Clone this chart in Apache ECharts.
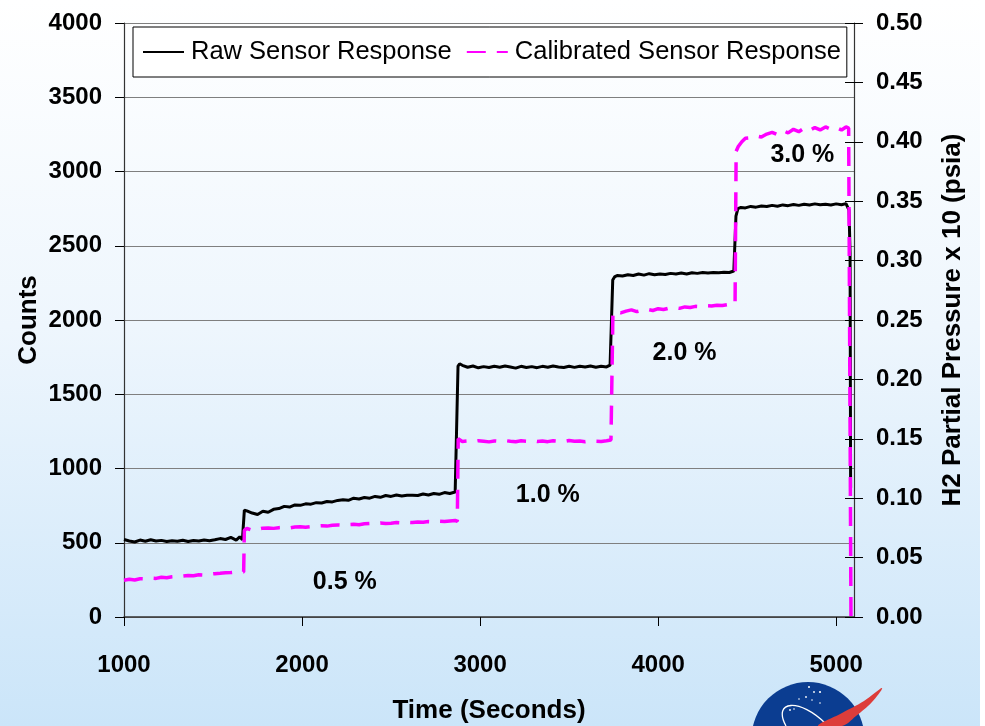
<!DOCTYPE html>
<html>
<head>
<meta charset="utf-8">
<title>H2 Sensor Response</title>
<script src="https://cdn.jsdelivr.net/npm/echarts@6/dist/echarts.min.js"></script>
<style>
  html, body { margin: 0; padding: 0; }
  #chart {
    width: 985px; height: 726px;
    background: linear-gradient(to bottom, #ffffff 0%, #eef6fd 45%, #cbe5f9 100%);
  }
</style>
</head>
<body>
<div id="chart"></div>
<script>
// Raw sensor output (counts, left axis)
const rawTime = [
  1000, 1030, 1060, 1090, 1120, 1150, 1180, 1210, 1240, 1270, 1300, 1330, 1360, 1390, 1420, 1450, 1480, 1510, 1540, 1570, 1600, 1630, 1650, 1665, 1672,
  1676, 1690, 1720, 1750, 1780, 1810, 1840, 1870, 1900, 1930, 1960, 1990, 2020, 2050, 2080, 2110, 2140, 2170, 2200, 2230, 2260, 2290, 2320, 2350, 2380, 2410, 2440, 2470, 2500, 2530, 2560, 2590, 2620, 2650, 2680, 2710, 2740, 2770, 2800, 2830, 2860, 2870,
  2876, 2885, 2900, 2930, 2960, 2990, 3020, 3050, 3080, 3110, 3140, 3170, 3200, 3230, 3260, 3290, 3320, 3350, 3380, 3410, 3440, 3470, 3500, 3530, 3560, 3590, 3620, 3650, 3680, 3710, 3730, 3740,
  3745, 3755, 3770, 3800, 3830, 3860, 3890, 3920, 3950, 3980, 4010, 4040, 4070, 4100, 4130, 4160, 4190, 4220, 4250, 4280, 4310, 4340, 4370, 4400, 4425, 4432,
  4437, 4448, 4465, 4490, 4520, 4550, 4580, 4610, 4640, 4670, 4700, 4730, 4760, 4790, 4820, 4850, 4880, 4910, 4940, 4970, 5000, 5030, 5055, 5066, 5072, 5078, 5081
];
const rawCounts = [
  522, 512, 505, 518, 510, 520, 512, 516, 508, 514, 510, 517, 509, 515, 512, 518, 514, 520, 528, 522, 536, 518, 540, 520, 525,
  720, 715, 700, 690, 712, 705, 725, 730, 745, 740, 755, 752, 762, 760, 770, 768, 778, 775, 785, 790, 786, 800, 795, 805, 800, 812, 806, 818, 812, 822, 815, 820, 820, 818, 828, 822, 832, 826, 838, 832, 842, 836,
  1690, 1705, 1695, 1682, 1690, 1678, 1686, 1680, 1688, 1682, 1690, 1684, 1676, 1688, 1680, 1686, 1679, 1688, 1682, 1690, 1684, 1680, 1688, 1681, 1689, 1683, 1690, 1682, 1688, 1684, 1696, 1690,
  2270, 2290, 2300, 2296, 2305, 2300, 2310, 2302, 2312, 2305, 2310, 2306, 2314, 2310, 2316, 2310, 2318, 2314, 2320, 2316, 2320, 2318, 2322, 2320, 2330, 2318,
  2700, 2750, 2758, 2755, 2765, 2760, 2768, 2764, 2772, 2766, 2775, 2770, 2778, 2772, 2780, 2774, 2782, 2776, 2780, 2775, 2782, 2776, 2784, 2790, 2740, 2450, 870
];

// Calibrated H2 partial pressure x 10 (psia, right axis)
const calTime = [
  1000, 1030, 1060, 1090, 1120, 1150, 1180, 1210, 1240, 1270, 1300, 1330, 1360, 1390, 1420, 1450, 1480, 1510, 1540, 1570, 1600, 1630, 1660, 1672,
  1676, 1690, 1710, 1730, 1750, 1780, 1810, 1840, 1870, 1900, 1930, 1960, 1990, 2020, 2050, 2080, 2110, 2140, 2170, 2200, 2230, 2260, 2290, 2320, 2350, 2380, 2410, 2440, 2470, 2500, 2530, 2560, 2590, 2620, 2650, 2680, 2710, 2740, 2770, 2800, 2830, 2860, 2872,
  2877, 2884, 2900, 2930, 2960, 2990, 3020, 3050, 3080, 3110, 3140, 3170, 3200, 3230, 3260, 3290, 3320, 3350, 3380, 3410, 3440, 3470, 3500, 3530, 3560, 3590, 3620, 3650, 3680, 3710, 3735, 3742,
  3746, 3760, 3790, 3820, 3850, 3880, 3910, 3940, 3970, 4000, 4030, 4060, 4090, 4120, 4150, 4180, 4210, 4240, 4270, 4300, 4330, 4360, 4390, 4415, 4432,
  4438, 4450, 4470, 4490, 4520, 4550, 4580, 4610, 4640, 4670, 4700, 4730, 4760, 4790, 4820, 4850, 4880, 4910, 4940, 4970, 5000, 5030, 5055, 5070, 5078, 5083
];
const calPsia = [
  0.0310, 0.0318, 0.0312, 0.0322, 0.0320, 0.0328, 0.0325, 0.0334, 0.0330, 0.0338, 0.0342, 0.0345, 0.0350, 0.0348, 0.0355, 0.0352, 0.0360, 0.0365, 0.0368, 0.0372, 0.0374, 0.0378, 0.0376, 0.0380,
  0.0730, 0.0745, 0.0735, 0.0728, 0.0740, 0.0748, 0.0750, 0.0746, 0.0752, 0.0755, 0.0750, 0.0758, 0.0760, 0.0756, 0.0762, 0.0765, 0.0768, 0.0765, 0.0772, 0.0775, 0.0772, 0.0778, 0.0780, 0.0777, 0.0785, 0.0788, 0.0785, 0.0792, 0.0788, 0.0790, 0.0795, 0.0792, 0.0798, 0.0795, 0.0800, 0.0798, 0.0803, 0.0800, 0.0806, 0.0803, 0.0808, 0.0812, 0.0806,
  0.1500, 0.1485, 0.1478, 0.1482, 0.1476, 0.1484, 0.1480, 0.1474, 0.1482, 0.1478, 0.1485, 0.1479, 0.1476, 0.1483, 0.1480, 0.1486, 0.1478, 0.1482, 0.1476, 0.1484, 0.1480, 0.1477, 0.1485, 0.1479, 0.1482, 0.1476, 0.1483, 0.1480, 0.1478, 0.1484, 0.1490, 0.1485,
  0.2565, 0.2572, 0.2560, 0.2575, 0.2585, 0.2570, 0.2582, 0.2590, 0.2580, 0.2595, 0.2588, 0.2600, 0.2605, 0.2598, 0.2610, 0.2605, 0.2615, 0.2612, 0.2620, 0.2618, 0.2625, 0.2622, 0.2630, 0.2628, 0.2635,
  0.3920, 0.3960, 0.4000, 0.4030, 0.4035, 0.4050, 0.4040, 0.4065, 0.4080, 0.4060, 0.4095, 0.4075, 0.4105, 0.4085, 0.4115, 0.4095, 0.4120, 0.4100, 0.4125, 0.4105, 0.4120, 0.4100, 0.4125, 0.4115, 0.4100, 0.0000
];

// Gas concentration steps, placed in (time, counts) coordinates
const stepLabels = ['0.5 %', '1.0 %', '2.0 %', '3.0 %'];
const stepLabelTime = [2240, 3380, 4148, 4810];
const stepLabelCounts = [233, 820, 1777, 3113];

const xTicks = [1000, 2000, 3000, 4000, 5000];

const FONT = "'Liberation Sans', Arial, Helvetica, sans-serif";
const chart = echarts.init(document.getElementById('chart'));

const zip = (a, b) => a.map((v, i) => [v, b[i]]);

const axisText = { fontFamily: FONT, fontWeight: 'bold', fontSize: 24, color: '#000' };
const nameText = { fontFamily: FONT, fontWeight: 'bold', fontSize: 26, color: '#000' };

chart.setOption({
  animation: false,
  grid: { left: 124, right: 131, top: 23, bottom: 109, containLabel: false, outerBoundsMode: 'none' },
  legend: {
    data: ['Raw Sensor Response', 'Calibrated Sensor Response'],
    left: 133, top: 27,
    padding: [12, 6, 12, 9],
    itemGap: 14,
    itemWidth: 41, itemHeight: 14,
    borderColor: '#000', borderWidth: 1,
    backgroundColor: 'rgba(255,255,255,0.85)',
    itemStyle: { opacity: 0 },
    textStyle: { fontFamily: FONT, fontSize: 25.5, color: '#000', padding: [0, 0, 0, 2] }
  },
  xAxis: {
    type: 'value', min: 1000, max: 5100, interval: 1000,
    name: 'Time (Seconds)', nameLocation: 'middle', nameGap: 81, nameTextStyle: nameText,
    axisLine: { onZero: false, lineStyle: { color: '#333', width: 1.5 } },
    axisTick: { show: true, length: 9, customValues: xTicks, lineStyle: { color: '#000' } },
    axisLabel: { customValues: xTicks, margin: 36, formatter: v => String(v), ...axisText },
    splitLine: { show: false }
  },
  yAxis: [
    {
      type: 'value', min: 0, max: 4000, interval: 500, position: 'left',
      name: 'Counts', nameLocation: 'middle', nameGap: 82, nameMoveOverlap: false, nameTextStyle: nameText,
      axisLine: { show: true, lineStyle: { color: '#333', width: 1.2 } },
      axisTick: { show: true, length: 9, lineStyle: { color: '#000' } },
      axisLabel: { margin: 22, formatter: v => String(v), ...axisText },
      splitLine: { show: true, lineStyle: { color: '#7f7f7f', width: 1.2 } }
    },
    {
      type: 'value', min: 0, max: 0.5, interval: 0.05, position: 'right',
      name: 'H2 Partial Pressure x 10 (psia)', nameLocation: 'middle', nameGap: 86, nameRotate: 90,
      nameTextStyle: nameText,
      axisLine: { show: true, lineStyle: { color: '#333', width: 1.2 } },
      axisTick: { show: true, length: 9, lineStyle: { color: '#000' } },
      axisLabel: { margin: 22, formatter: v => v.toFixed(2), ...axisText },
      splitLine: { show: false }
    },
    {
      // inner half of the cross ticks on the pressure axis
      type: 'value', min: 0, max: 0.5, interval: 0.05, position: 'right',
      axisLine: { show: false },
      axisTick: { show: true, inside: true, length: 9, lineStyle: { color: '#000' } },
      axisLabel: { show: false },
      splitLine: { show: false }
    }
  ],
  series: [
    {
      name: 'Raw Sensor Response', type: 'line', yAxisIndex: 0,
      data: zip(rawTime, rawCounts),
      showSymbol: false, symbol: 'none',
      lineStyle: { color: '#000', width: 3 },
      itemStyle: { color: '#000' },
      z: 3
    },
    {
      name: 'Calibrated Sensor Response', type: 'line', yAxisIndex: 1,
      data: zip(calTime, calPsia),
      showSymbol: false, symbol: 'none',
      lineStyle: { color: '#ff00ff', width: 3.5, type: [19, 11] },
      itemStyle: { color: '#ff00ff' },
      z: 4
    },
    {
      name: 'steps', type: 'scatter', yAxisIndex: 0, silent: true,
      data: stepLabelTime.map((t, i) => [t, stepLabelCounts[i], stepLabels[i]]),
      symbolSize: 1,
      itemStyle: { color: 'transparent' },
      label: {
        show: true, position: 'inside',
        formatter: p => p.data[2],
        fontFamily: FONT, fontWeight: 'bold', fontSize: 25, color: '#000', opacity: 1
      },
      z: 5
    }
  ],
  graphic: [
    // emblem in the lower right corner
    { type: 'circle', silent: true, z: 10, shape: { cx: 808, cy: 738.5, r: 56.4 }, style: { fill: '#0b3d91' } },
    { type: 'circle', silent: true, z: 11, shape: { cx: 809, cy: 687, r: 1 }, style: { fill: '#fff' } },
    { type: 'circle', silent: true, z: 11, shape: { cx: 814, cy: 692, r: 0.9 }, style: { fill: '#fff' } },
    { type: 'circle', silent: true, z: 11, shape: { cx: 820, cy: 692, r: 1.1 }, style: { fill: '#fff' } },
    { type: 'circle', silent: true, z: 11, shape: { cx: 806, cy: 697, r: 0.9 }, style: { fill: '#fff' } },
    { type: 'circle', silent: true, z: 11, shape: { cx: 812, cy: 700, r: 0.8 }, style: { fill: '#fff' } },
    { type: 'circle', silent: true, z: 11, shape: { cx: 820, cy: 703, r: 0.8 }, style: { fill: '#fff' } },
    { type: 'circle', silent: true, z: 11, shape: { cx: 799, cy: 699, r: 0.8 }, style: { fill: '#fff' } },
    { type: 'circle', silent: true, z: 11, shape: { cx: 790, cy: 710, r: 0.9 }, style: { fill: '#fff' } },
    { type: 'circle', silent: true, z: 11, shape: { cx: 794, cy: 709, r: 0.8 }, style: { fill: '#fff' } },
    {
      type: 'bezierCurve', silent: true, z: 11,
      shape: { x1: 786, y1: 726, cpx1: 772, cpy1: 700, cpx2: 800, cpy2: 698, x2: 826, y2: 724 },
      style: { fill: null, stroke: '#fff', lineWidth: 1.3 }
    },
    {
      type: 'polygon', silent: true, z: 12,
      shape: {
        points: [[818, 726], [842, 713], [864, 701], [882, 688], [872, 702], [856, 716], [842, 726]],
        smooth: 0.4
      },
      style: { fill: '#dd3d3a' }
    },
    { type: 'rect', silent: true, z: 13, shape: { x: 980, y: 0, width: 5, height: 726 }, style: { fill: '#fff' } }
  ]
});
</script>
</body>
</html>
